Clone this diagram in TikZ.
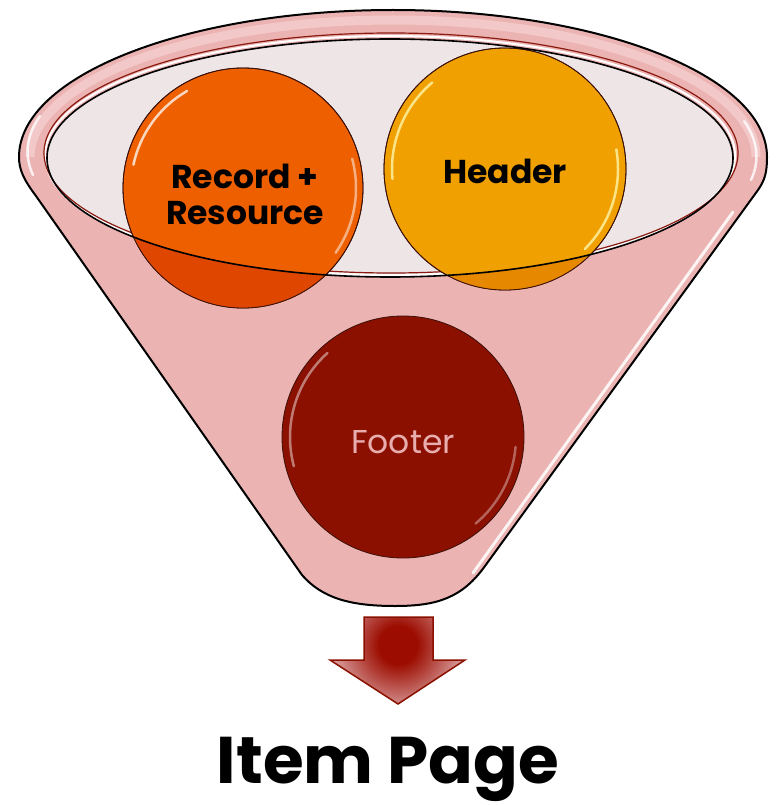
\documentclass[tikz,border=0pt]{standalone}
\usepackage{fontspec}
\setmainfont{Poppins}
\definecolor{conepink}{HTML}{ECB3B3}
\definecolor{rimlight}{HTML}{F6D2D2}
\definecolor{innerfill}{HTML}{EEE5E7}
\definecolor{rimred}{HTML}{8A1A10}
\definecolor{recorange}{HTML}{EE5F00}
\definecolor{recdark}{HTML}{DF4700}
\definecolor{headorange}{HTML}{F0A000}
\definecolor{headdark}{HTML}{E68800}
\definecolor{footred}{HTML}{8B1000}
\definecolor{foottext}{HTML}{E8AEAE}
\definecolor{ballline}{HTML}{3A1008}
\definecolor{arrowdark}{HTML}{9C0C00}
\definecolor{arrowlight}{HTML}{DCA6A6}
\definecolor{arrowline}{HTML}{8A1000}
\pgfdeclareradialshading{arrowshade}{\pgfpoint{0bp}{0bp}}{%
  color(0bp)=(arrowdark); color(7bp)=(arrowdark); color(25bp)=(arrowlight); color(50bp)=(arrowlight)}
\tikzset{
  ball/.style={circle, minimum size=240pt, inner sep=0pt, draw=ballline, line width=0.8pt},
  gloss/.style={white, line width=2.5pt, line cap=round, opacity=0.75},
  boldlbl/.style={font=\fontsize{33}{36}\selectfont\bfseries, align=center, text=black},
}
\begin{document}
\begin{tikzpicture}[x=1pt,y=-1pt]
\useasboundingbox (0,0) rectangle (776,805);

% funnel body
\path[draw=black, line width=2pt, fill=conepink, line join=round]
  (19,157) arc[start angle=180, end angle=360, x radius=374, y radius=147]
  .. controls (767,172) and (765,180) .. (758,190)
  -- (485,566)
  .. controls (462,598) and (437,606) .. (395,606)
  .. controls (350,606) and (322,598) .. (302,575)
  -- (36,196)
  .. controls (24,180) and (19,170) .. (19,157) -- cycle;

% rim lighter band and highlights
\draw[rimlight, line width=9pt, opacity=0.7]
  (30,157) arc[start angle=180, end angle=360, x radius=363, y radius=137];
\draw[white, line width=2.5pt, opacity=0.8, line cap=round]
  (33,175) arc[start angle=170, end angle=195, x radius=360, y radius=136];
\draw[white, line width=2.5pt, opacity=0.8, line cap=round]
  (751,180) arc[start angle=10, end angle=-15, x radius=360, y radius=136];
\draw[white, line width=3pt, opacity=0.85, line cap=round] (733,212) -- (473,573);

% opening
\fill[innerfill] (390,158) ellipse[x radius=343, y radius=119];
\draw[white, line width=2pt] (390,155.5) ellipse[x radius=345, y radius=119.5];
\draw[rimred, line width=1.2pt] (391,153) ellipse[x radius=347, y radius=120];

% balls
\node[ball, fill=recorange] (recC) at (243,188) {};
\node[ball, fill=headorange, minimum size=242pt] (headC) at (505,169) {};
\node[ball, fill=footred, minimum size=242pt] (footC) at (403,437) {};

% parts of the upper balls seen through the funnel wall
\begin{scope}
  \clip (recC.center) circle[radius=120];
  \fill[recdark, even odd rule] (0,0) rectangle (776,805)
    (390,158) ellipse[x radius=343, y radius=119];
\end{scope}
\begin{scope}
  \clip (headC.center) circle[radius=121];
  \fill[headdark, even odd rule] (0,0) rectangle (776,805)
    (390,158) ellipse[x radius=343, y radius=119];
\end{scope}
\draw[ballline, line width=0.8pt] (recC.center) circle[radius=120];
\draw[ballline, line width=0.8pt] (headC.center) circle[radius=121];

% gloss
\draw[gloss] (recC.center) ++(192:112) arc[start angle=192, end angle=240, radius=112];
\draw[gloss, opacity=0.5] (recC.center) ++(345:113) arc[start angle=345, end angle=395, radius=113];
\draw[gloss, white!70!yellow] (headC.center) ++(175:113) arc[start angle=175, end angle=230, radius=113];
\draw[gloss, white!70!yellow] (headC.center) ++(350:113) arc[start angle=350, end angle=405, radius=113];
\draw[gloss, opacity=0.45] (footC.center) ++(165:113) arc[start angle=165, end angle=228, radius=113];
\draw[gloss, opacity=0.35] (footC.center) ++(5:113) arc[start angle=5, end angle=50, radius=113];

% opening outline over the balls
\draw[black, line width=1.6pt] (390,158) ellipse[x radius=343, y radius=119];

% labels
\node[boldlbl] (rec) at (245,194) {Record +\\Resource};
\node[boldlbl, anchor=base] (head) at (505,183) {Header};
\node[font=\fontsize{33}{36}\selectfont, text=foottext, anchor=base] (foot) at (403,453) {Footer};

% block arrow
\coordinate (a1) at (364,617);
\coordinate (a2) at (433,617);
\coordinate (a3) at (433,660);
\coordinate (a4) at (465,660);
\coordinate (a5) at (398,704);
\coordinate (a6) at (330,660);
\coordinate (a7) at (364,660);
\begin{scope}
  \clip (a1) -- (a2) -- (a3) -- (a4) -- (a5) -- (a6) -- (a7) -- cycle;
  \fill[arrowlight] (320,610) rectangle (475,710);
  \shade[shading=arrowshade] (398,645) circle[radius=68];
\end{scope}
\draw[arrowline, line width=1.5pt, line join=miter]
  (a1) -- (a2) -- (a3) -- (a4) -- (a5) -- (a6) -- (a7) -- cycle;

\node[font=\fontsize{66}{68}\selectfont\bfseries, anchor=base, inner sep=0pt] (item) at (388,783) {Item Page};
\end{tikzpicture}
\end{document}
